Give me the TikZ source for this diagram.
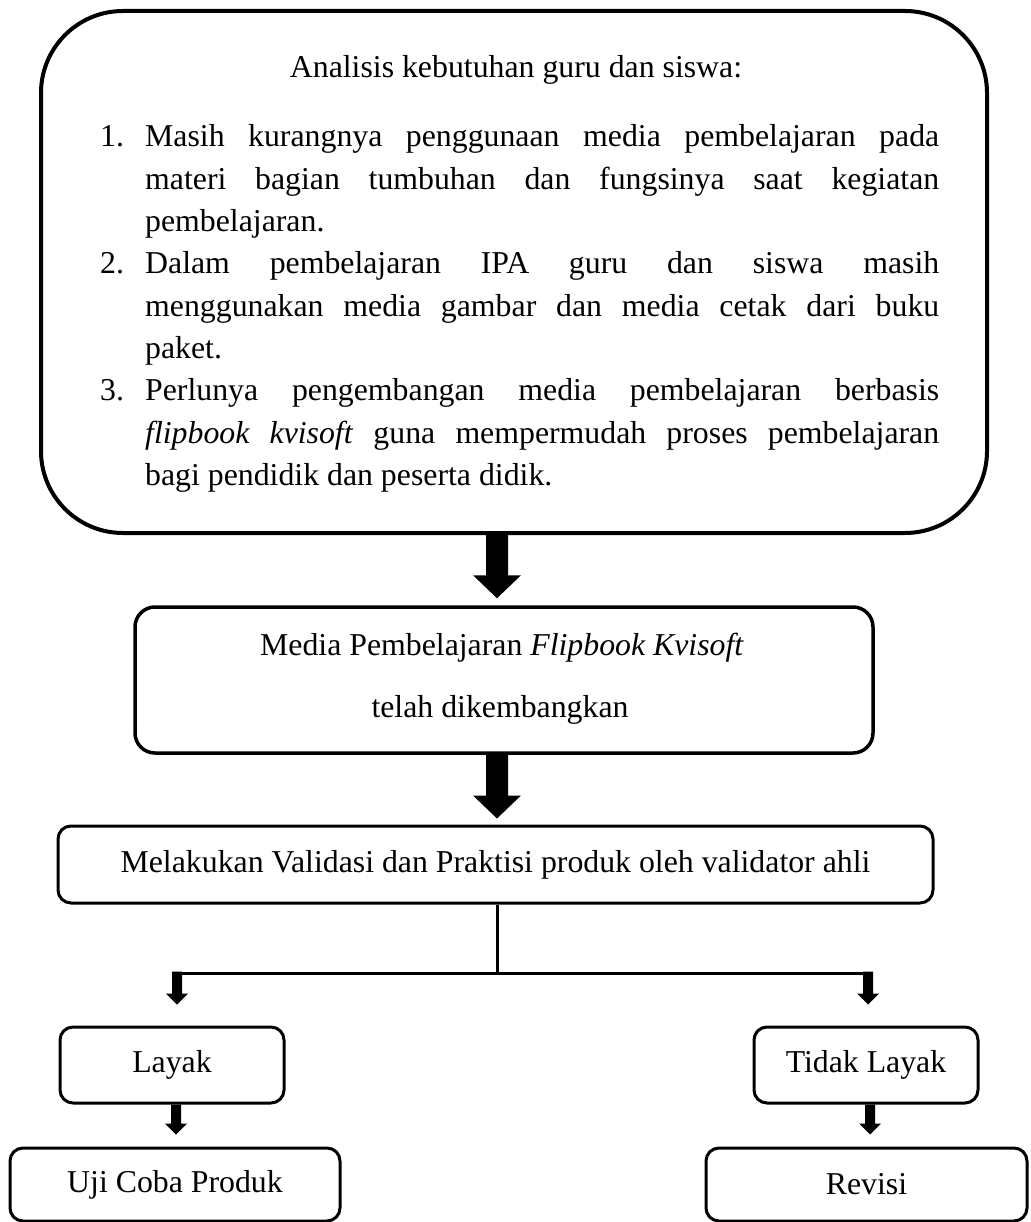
\documentclass[tikz,border=0pt]{standalone}
\usepackage{fontspec}
\setmainfont{Liberation Serif}
\usetikzlibrary{calc}
\newcommand\blockarrow[5]{\fill ($(#1)+(-#3,0)$) -- ($(#2)+(-#3,-#5)$) -- ($(#2)+(-#4,-#5)$) -- (#2) -- ($(#2)+(#4,-#5)$) -- ($(#2)+(#3,-#5)$) -- ($(#1)+(#3,0)$) -- cycle;}
\newcommand\jline[1]{\makebox[794pt][s]{#1}}
\begin{document}
\begin{tikzpicture}[x=1pt,y=-1pt,
  every node/.style={font=\fontsize{31.8}{42.3}\selectfont},
  box/.style={draw, line width=3pt, rounded corners=13pt, inner sep=0pt},
  txt/.style={inner sep=0pt}]
\useasboundingbox (0,0) rectangle (1030,1222);
% top box
\node[box, line width=4pt, rounded corners=82pt, minimum width=946pt, minimum height=522pt] (top) at (514,272) {};
\node[txt, anchor=base] (title) at (516,78) {Analisis kebutuhan guru dan siswa:};
\node[txt, anchor=base west] (list) at (100,147) {\begin{minipage}[t]{839pt}\fontsize{31.8}{42.3}\selectfont\parindent0pt
\makebox[45pt][l]{1.}\jline{Masih kurangnya penggunaan media pembelajaran pada}\\
\hspace*{45pt}\jline{materi bagian tumbuhan dan fungsinya saat kegiatan}\\
\hspace*{45pt}pembelajaran.\\
\makebox[45pt][l]{2.}\jline{Dalam pembelajaran IPA guru dan siswa masih}\\
\hspace*{45pt}\jline{menggunakan media gambar dan media cetak dari buku}\\
\hspace*{45pt}paket.\\
\makebox[45pt][l]{3.}\jline{Perlunya pengembangan media pembelajaran berbasis}\\
\hspace*{45pt}\jline{\textit{flipbook kvisoft} guna mempermudah proses pembelajaran}\\
\hspace*{45pt}bagi pendidik dan peserta didik.
\end{minipage}};
% second box
\node[box, line width=3.5pt, rounded corners=20pt, minimum width=738pt, minimum height=146pt] (media) at (504,680) {};
\node[txt, anchor=base] (media1) at (502,655) {Media Pembelajaran \textit{Flipbook Kvisoft}};
\node[txt, anchor=base] (media2) at (500,717) {telah dikembangkan};
% third box
\node[box, minimum width=875pt, minimum height=77pt] (valid) at (495.5,864.5) {Melakukan Validasi dan Praktisi produk oleh validator ahli};
% outcome boxes
\node[box, minimum width=224pt, minimum height=76pt] (layak) at (172,1065) {Layak};
\node[box, minimum width=224pt, minimum height=76pt] (tlayak) at (866,1065) {Tidak Layak};
\node[box, minimum width=330pt, minimum height=73pt] (uji) at (175,1184.5) {Uji Coba Produk};
\node[box, minimum width=321pt, minimum height=73pt] (revisi) at (866.5,1184.5) {Revisi};
% arrows
\coordinate (midx) at (497,0);
\coordinate (a1s) at (top.south -| midx);
\coordinate (a1e) at ($(media.north -| midx)+(0,-7)$);
\blockarrow{a1s}{a1e}{11}{24}{23}
\coordinate (a2s) at (media.south -| midx);
\coordinate (a2e) at ($(valid.north -| midx)+(0,-6)$);
\blockarrow{a2s}{a2e}{11}{24}{23}
\coordinate (junc) at (497,973);
\draw[line width=3pt] (valid.south -| midx) -- (junc);
\coordinate (jl) at (177,973);
\coordinate (jr) at (868,973);
\draw[line width=3pt] (jl) -- (jr);
\coordinate (jls) at (177,971.5);
\coordinate (jrs) at (868,971.5);
\coordinate (tl) at ($(layak.north -| jl)+(0,-21)$);
\coordinate (tr) at ($(tlayak.north -| jr)+(0,-21)$);
\blockarrow{jls}{tl}{5}{11}{11}
\blockarrow{jrs}{tr}{5}{11}{11}
\coordinate (lx) at (176,0);
\coordinate (rx) at (870,0);
\coordinate (b1s) at (layak.south -| lx);
\coordinate (b1e) at ($(uji.north -| lx)+(0,-12)$);
\coordinate (b2s) at (tlayak.south -| rx);
\coordinate (b2e) at ($(revisi.north -| rx)+(0,-12)$);
\blockarrow{b1s}{b1e}{5}{11}{11}
\blockarrow{b2s}{b2e}{5}{11}{11}
\end{tikzpicture}
\end{document}
